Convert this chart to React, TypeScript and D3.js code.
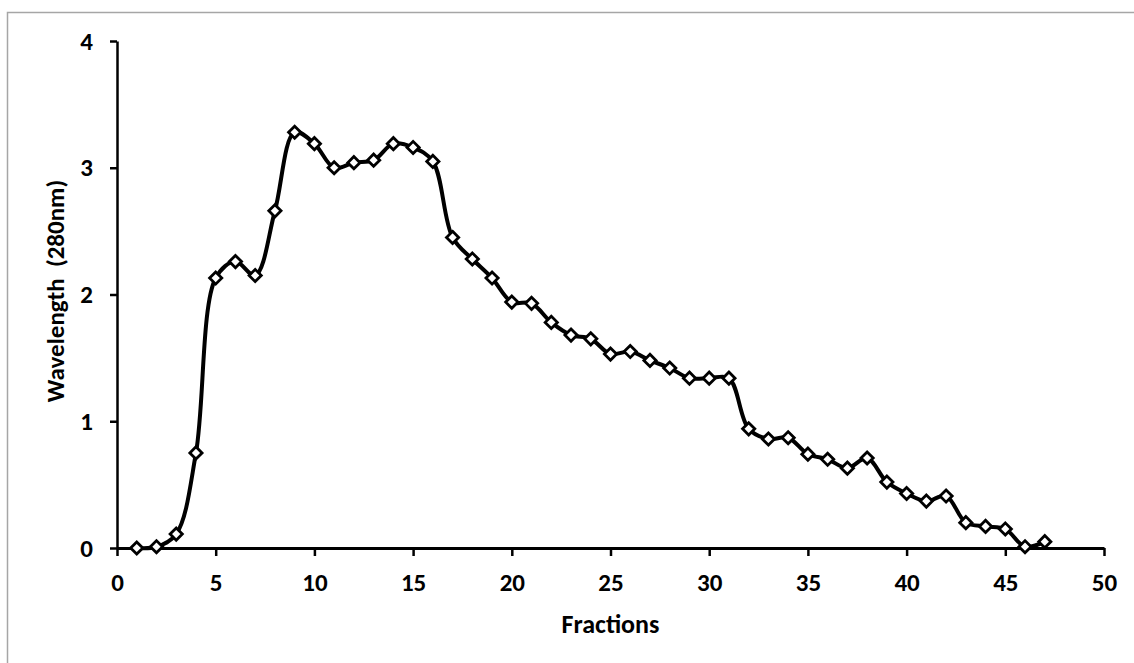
import { axisBottom, axisLeft, curveCatmullRom, format, line, scaleLinear, select, symbol, symbolDiamond2 } from "d3";
import type { ReactElement } from "react";
import { useEffect, useRef } from "react";

const fractions = [
  1, 2, 3, 4, 5, 6, 7, 8, 9, 10, 11, 12, 13, 14, 15, 16, 17, 18, 19, 20, 21, 22, 23, 24,
  25, 26, 27, 28, 29, 30, 31, 32, 33, 34, 35, 36, 37, 38, 39, 40, 41, 42, 43, 44, 45, 46, 47,
];
const absorbance = [
  0.0, 0.01, 0.11, 0.75, 2.13, 2.26, 2.15, 2.66, 3.28, 3.19, 3.0, 3.04, 3.06, 3.19, 3.16, 3.05,
  2.45, 2.28, 2.13, 1.94, 1.93, 1.78, 1.68, 1.65, 1.53, 1.55, 1.48, 1.42, 1.34, 1.34, 1.34,
  0.94, 0.86, 0.87, 0.74, 0.7, 0.63, 0.71, 0.52, 0.43, 0.37, 0.41, 0.2, 0.17, 0.15, 0.01, 0.05,
];
const xTicks = [0, 5, 10, 15, 20, 25, 30, 35, 40, 45, 50];
const yTicks = [0, 1, 2, 3, 4];

const WIDTH = 1134;
const HEIGHT = 663;
const LEFT = 117;
const RIGHT = 1104;
const TOP = 41;
const BOTTOM = 548;
const FONT = "Carlito, Calibri, Lato, 'Open Sans', sans-serif";

export default function App(): ReactElement {
  const ref = useRef<SVGSVGElement | null>(null);

  useEffect(() => {
    const svg = select(ref.current);
    svg.selectAll("*").remove();

    const x = scaleLinear().domain([0, 50]).range([LEFT, RIGHT]);
    const y = scaleLinear().domain([0, 4]).range([BOTTOM, TOP]);

    // outer chart-area border (only left/top edges are inside the picture)
    svg
      .append("rect")
      .attr("x", 7.5)
      .attr("y", 12.5)
      .attr("width", WIDTH + 20)
      .attr("height", HEIGHT + 20)
      .attr("fill", "#fff")
      .attr("stroke", "#a6a6a6")
      .attr("stroke-width", 1.5);

    const gx = svg
      .append("g")
      .attr("transform", `translate(0,${BOTTOM})`)
      .call(
        axisBottom(x)
          .tickValues(xTicks)
          .tickFormat(format("d"))
          .tickSize(8)
          .tickSizeOuter(0)
          .tickPadding(17),
      );
    gx.select(".domain").attr("stroke", "#000").attr("stroke-width", 3);
    gx.selectAll(".tick line").attr("stroke", "#000").attr("stroke-width", 2.5);
    gx.selectAll(".tick text")
      .attr("font-family", FONT)
      .attr("font-weight", "bold")
      .attr("font-size", 25)
      .attr("fill", "#000");

    const gy = svg
      .append("g")
      .attr("transform", `translate(${LEFT},0)`)
      .call(
        axisLeft(y)
          .tickValues(yTicks)
          .tickFormat(format("d"))
          .tickSize(7)
          .tickSizeOuter(0)
          .tickPadding(17),
      );
    gy.select(".domain").attr("stroke", "#000").attr("stroke-width", 2.5);
    gy.selectAll(".tick line").attr("stroke", "#000").attr("stroke-width", 2.5);
    gy.selectAll(".tick text")
      .attr("font-family", FONT)
      .attr("font-weight", "bold")
      .attr("font-size", 25)
      .attr("fill", "#000");

    const pts = fractions.map((f, i) => [f, absorbance[i]] as [number, number]);

    svg
      .append("path")
      .datum(pts)
      .attr("fill", "none")
      .attr("stroke", "#000")
      .attr("stroke-width", 4)
      .attr("stroke-linejoin", "round")
      .attr(
        "d",
        line<[number, number]>()
          .x((d) => x(d[0]))
          .y((d) => y(d[1]))
          .curve(curveCatmullRom.alpha(0.5)),
      );

    svg
      .append("g")
      .selectAll("path")
      .data(pts)
      .join("path")
      .attr("transform", (d) => `translate(${x(d[0])},${y(d[1])})`)
      .attr("d", symbol().type(symbolDiamond2).size(95)() ?? "")
      .attr("fill", "#fff")
      .attr("stroke", "#000")
      .attr("stroke-width", 2.8);

    svg
      .append("text")
      .attr("x", (LEFT + RIGHT) / 2)
      .attr("y", 633)
      .attr("text-anchor", "middle")
      .attr("font-family", FONT)
      .attr("font-weight", "bold")
      .attr("font-size", 26)
      .text("Fractions");

    svg
      .append("text")
      .attr("transform", `translate(64,291) rotate(-90)`)
      .attr("text-anchor", "middle")
      .attr("font-family", FONT)
      .attr("font-weight", "bold")
      .attr("font-size", 25)
      .style("white-space", "pre")
      .text("Wavelength  (280nm)");
  }, []);

  return (
    <svg
      ref={ref}
      width={WIDTH}
      height={HEIGHT}
      style={{ position: "absolute", left: 0, top: 0, display: "block" }}
    />
  );
}
